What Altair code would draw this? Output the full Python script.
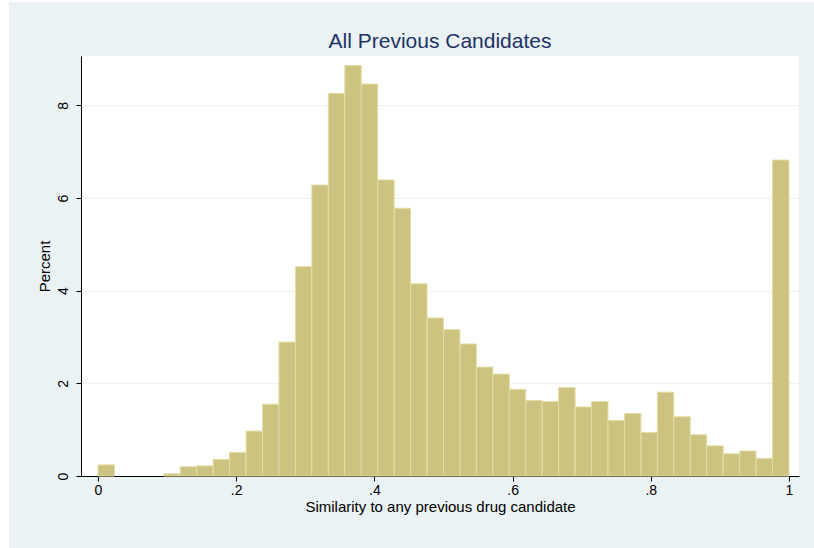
import altair as alt
import pandas as pd

# Histogram: 42 bins on [0, 1], percent of candidates per bin
n_bins = 42
percent = [
    0.24, 0.0, 0.0, 0.0, 0.05, 0.20, 0.22, 0.36, 0.51, 0.97,
    1.55, 2.89, 4.52, 6.28, 8.26, 8.86, 8.46, 6.39, 5.78, 4.15,
    3.41, 3.16, 2.85, 2.35, 2.20, 1.87, 1.63, 1.61, 1.91, 1.49,
    1.61, 1.20, 1.35, 0.94, 1.81, 1.28, 0.89, 0.65, 0.48, 0.54,
    0.38, 6.82,
]
x_ticks = [0, 0.2, 0.4, 0.6, 0.8, 1]
y_ticks = [0, 2, 4, 6, 8]
title_text = "All Previous Candidates"

bin_w = 1.0 / n_bins
df = pd.DataFrame({
    "start": [i * bin_w for i in range(n_bins)],
    "end": [(i + 1) * bin_w for i in range(n_bins)],
    "pct": percent,
})

BG = "#EAF2F3"
FONT = "Liberation Sans"
W, H = 718, 420

x_scale = alt.Scale(domain=[-0.0246, 1.0145], nice=False, zero=False)
y_scale = alt.Scale(domain=[0, 9.065], nice=False)

bars = alt.Chart(df).transform_filter("datum.pct > 0").mark_rect(
    fill="#CBC37F", stroke="#E4DEA6", strokeWidth=1
).encode(
    x=alt.X("start:Q", scale=x_scale,
            axis=alt.Axis(
                values=x_ticks, grid=False,
                labelExpr="datum.value == 0 ? '0' : (datum.value == 1 ? '1' : replace(format(datum.value, '.1f'), '0.', '.'))",
                title="Similarity to any previous drug candidate",
                titleX=W / 2, titleY=35, titleBaseline="alphabetic",
                titleAnchor="middle", titleAlign="center",
            )),
    x2="end:Q",
    y=alt.Y("pct:Q", scale=y_scale,
            axis=alt.Axis(
                values=y_ticks, grid=True, format="d",
                labelAngle=270, labelAlign="center", labelBaseline="bottom",
                labelPadding=6,
                title="Percent", titleAngle=270, titleX=-37, titleY=H / 2,
                titleAlign="center", titleBaseline="middle",
            )),
    y2=alt.datum(0),
)

edge = pd.DataFrame({"a": [0]})
left_strip = alt.Chart(edge).mark_rect(fill="white", clip=False).encode(
    x=alt.value(-81), x2=alt.value(-72), y=alt.value(-56), y2=alt.value(H + 72)
)
top_strip = alt.Chart(edge).mark_rect(fill="white", clip=False).encode(
    x=alt.value(-81), x2=alt.value(W + 15), y=alt.value(-56), y2=alt.value(-54)
)
title = alt.Chart(pd.DataFrame({"t": [title_text]})).mark_text(
    font=FONT, fontSize=21, color="#1C3266", align="center",
    baseline="alphabetic", clip=False,
).encode(x=alt.value(W / 2), y=alt.value(-8), text="t:N")

chart = alt.layer(left_strip, top_strip, bars, title).properties(
    width=W, height=H,
    autosize=alt.AutoSizeParams(type="none"),
    padding={"left": 81, "top": 56, "right": 15, "bottom": 72},
    background=BG,
).configure_view(
    fill="white", stroke=None
).configure_axis(
    domainColor="black", domainWidth=1, tickColor="black", tickSize=5,
    tickWidth=1, labelColor="black", labelFont=FONT, labelFontSize=14,
    titleColor="black", titleFont=FONT, titleFontSize=15, titleFontWeight="normal",
    gridColor=BG, gridWidth=1, gridOpacity=1,
)

chart.save("out.html", embed_options={"renderer": "svg", "actions": False})
